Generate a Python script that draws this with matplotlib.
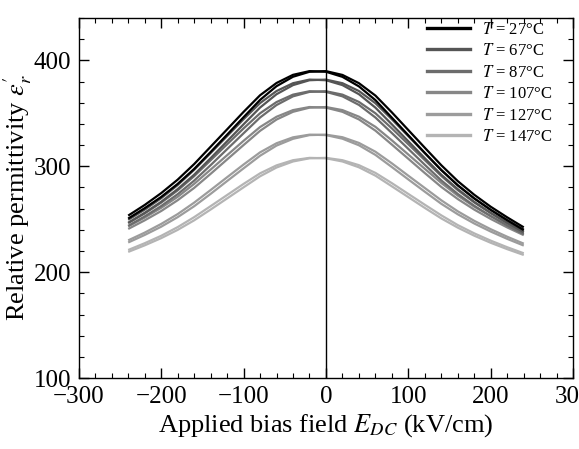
import matplotlib
matplotlib.use("Agg")
import matplotlib.pyplot as plt
from matplotlib.ticker import MultipleLocator

plt.rcParams["font.family"] = ["Liberation Serif", "DejaVu Serif"]
plt.rcParams["mathtext.fontset"] = "stix"

# bias field grid (kV/cm)
field = [-240, -220, -200, -180, -160, -140, -120, -100, -80, -60, -40, -20,
         0, 20, 40, 60, 80, 100, 120, 140, 160, 180, 200, 220, 240]

temps = [27, 67, 87, 107, 127, 147]
colors = ["#000000", "#555555", "#6c6c6c", "#878787", "#9c9c9c", "#b4b4b4"]

# two sweep branches per temperature (up / down)
eps_up = {
    27: [253.4, 263.4, 274.6, 287.3, 302.0, 318.4, 334.8, 351.3, 367.0, 378.6, 386.3, 389.8,
         389.2, 384.4, 375.4, 362.4, 345.8, 329.2, 312.5, 296.3, 281.9, 269.5, 258.7, 248.9, 239.7],
    67: [249.4, 259.0, 269.8, 282.2, 296.6, 312.4, 328.4, 344.4, 359.6, 371.0, 378.4, 381.8,
         381.2, 376.6, 368.0, 355.3, 339.5, 323.5, 307.5, 291.9, 278.3, 266.3, 255.9, 246.5, 237.7],
    87: [246.3, 255.4, 265.6, 277.2, 290.6, 305.6, 320.7, 335.7, 350.0, 360.6, 367.6, 370.8,
         370.2, 366.0, 357.9, 346.0, 331.3, 316.3, 301.3, 286.6, 273.8, 262.6, 252.9, 244.0, 235.8],
    107: [243.2, 251.5, 260.7, 271.1, 283.3, 296.8, 310.4, 324.0, 337.0, 346.7, 353.0, 355.9,
          355.3, 351.4, 344.2, 333.6, 320.4, 307.0, 293.5, 280.4, 269.0, 259.0, 250.2, 242.2, 234.9],
    127: [230.0, 237.3, 245.5, 254.8, 265.6, 277.5, 289.6, 301.6, 313.1, 321.7, 327.3, 329.8,
          329.4, 326.0, 319.8, 310.7, 299.2, 287.5, 275.9, 264.5, 254.6, 245.9, 238.3, 231.4, 225.1],
    147: [220.9, 227.3, 234.3, 242.5, 251.9, 262.3, 272.8, 283.3, 293.3, 300.8, 305.7, 307.9,
          307.5, 304.5, 299.0, 291.1, 281.0, 270.8, 260.6, 250.7, 242.0, 234.4, 227.7, 221.7, 216.2],
}
eps_down = {
    27: [250.6, 260.4, 271.0, 283.3, 297.4, 313.4, 329.8, 346.3, 362.6, 375.6, 384.5, 389.2,
         389.8, 386.2, 378.4, 366.7, 350.8, 334.1, 317.4, 300.9, 285.9, 273.0, 261.7, 251.7, 242.3],
    67: [246.6, 256.0, 266.4, 278.4, 292.0, 307.6, 323.6, 339.6, 355.4, 368.0, 376.6, 381.2,
         381.8, 378.4, 371.0, 359.5, 344.3, 328.3, 312.3, 296.5, 282.1, 269.7, 258.9, 249.3, 240.3],
    87: [243.7, 252.6, 262.4, 273.6, 286.4, 301.0, 316.1, 331.1, 346.0, 357.8, 366.0, 370.2,
         370.8, 367.6, 360.7, 350.0, 335.7, 320.7, 305.7, 290.8, 277.4, 265.8, 255.7, 246.6, 238.2],
    107: [240.8, 248.9, 257.7, 267.9, 279.5, 292.8, 306.4, 320.0, 333.4, 344.1, 351.4, 355.3,
          355.9, 353.0, 346.8, 337.2, 324.4, 311.0, 297.5, 284.2, 272.2, 261.8, 252.8, 244.6, 237.1],
    127: [228.0, 235.1, 242.9, 251.9, 262.2, 273.9, 286.0, 298.0, 309.9, 319.5, 325.9, 329.4,
          329.8, 327.4, 322.0, 313.7, 302.7, 291.0, 279.4, 267.8, 257.4, 248.4, 240.5, 233.4, 226.9],
    147: [219.1, 225.3, 232.1, 239.9, 248.9, 259.1, 269.6, 280.1, 290.5, 298.8, 304.5, 307.5,
          307.9, 305.7, 301.0, 293.7, 284.0, 273.8, 263.6, 253.6, 244.4, 236.6, 229.7, 223.5, 217.8],
}

fig = plt.figure(figsize=(5.79, 4.49), dpi=100)
ax = fig.add_axes([0.136, 0.158, 0.854, 0.802])

# lighter curves first so the 27 degC pair sits on top
for temp, color in reversed(list(zip(temps, colors))):
    ax.plot(field, eps_up[temp], color=color, lw=1.6, solid_capstyle="butt")
    ax.plot(field, eps_down[temp], color=color, lw=1.6, solid_capstyle="butt")

ax.axvline(0, color="black", lw=1.0)

# legend proxies
for temp, color in zip(temps, colors):
    ax.plot([], [], color=color, lw=2.4, label=rf"$T$ = {temp}°C")

ax.set_xlim(-300, 300)
ax.set_ylim(100, 440)
ax.xaxis.set_major_locator(MultipleLocator(100))
ax.xaxis.set_minor_locator(MultipleLocator(20))
ax.yaxis.set_major_locator(MultipleLocator(100))
ax.yaxis.set_minor_locator(MultipleLocator(20))
ax.tick_params(which="both", direction="in", top=True, right=True, labelsize=18)
ax.tick_params(which="major", length=7, width=1.0, pad=5.5)
ax.tick_params(which="minor", length=3.5, width=0.8)
for spine in ax.spines.values():
    spine.set_linewidth(1.0)

ax.set_xlabel(r"Applied bias field $E_{DC}$ (kV/cm)", fontsize=19, labelpad=3)
ax.set_ylabel(r"Relative permittivity $\varepsilon_{r}'$", fontsize=19, labelpad=0)

ax.legend(loc="upper right", bbox_to_anchor=(0.972, 1.008), frameon=False,
          fontsize=12, handlelength=2.6, labelspacing=0.33, handletextpad=0.7,
          borderaxespad=0.0)

fig.savefig("out.png", dpi=100)
